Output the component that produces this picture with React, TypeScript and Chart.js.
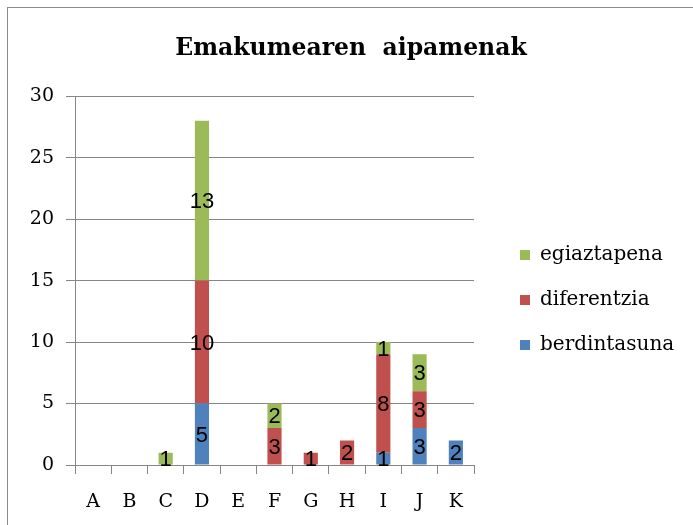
import React, { useEffect, useRef } from "react";
import { Chart, registerables } from "chart.js";

Chart.register(...registerables);

const categories = ["A", "B", "C", "D", "E", "F", "G", "H", "I", "J", "K"];
const berdintasuna = [0, 0, 0, 5, 0, 0, 0, 0, 1, 3, 2];
const diferentzia = [0, 0, 0, 10, 0, 3, 1, 2, 8, 3, 0];
const egiaztapena = [0, 0, 1, 13, 0, 2, 0, 0, 1, 3, 0];
const yTicks = [0, 5, 10, 15, 20, 25, 30];

const CANVAS_W = 686;
const CANVAS_H = 518;
const PLOT_RIGHT = 466;
const LEGEND_LEFT = 487;
const LEGEND_TOP = 90;
const LEGEND_BOTTOM = 494;

const segmentLabels = {
  id: "segmentLabels",
  afterDatasetsDraw(chart: any) {
    const ctx = chart.ctx;
    ctx.save();
    ctx.font = "22px 'Liberation Sans', Arial, sans-serif";
    ctx.fillStyle = "#000";
    ctx.textAlign = "center";
    ctx.textBaseline = "middle";
    chart.data.datasets.forEach((ds: any, di: number) => {
      const meta = chart.getDatasetMeta(di);
      meta.data.forEach((el: any, i: number) => {
        const v = ds.data[i];
        if (!v) return;
        const props = el.getProps(["x", "y", "base"], true);
        ctx.fillText(String(v), props.x, (props.y + props.base) / 2 + 1.5);
      });
    });
    ctx.restore();
  },
};

const legendPlace = {
  id: "legendPlace",
  beforeLayout(chart: any) {
    const lg = chart.legend;
    if (lg && !lg.__patched) {
      const f = lg.fit;
      lg.fit = function () {
        f.call(this);
        this.width = CANVAS_W - PLOT_RIGHT;
      };
      lg.__patched = true;
    }
  },
  afterLayout(chart: any) {
    const lg = chart.legend;
    if (lg) {
      lg.left = LEGEND_LEFT;
      lg.right = CANVAS_W;
      lg.top = LEGEND_TOP;
      lg.bottom = LEGEND_BOTTOM;
      lg.height = LEGEND_BOTTOM - LEGEND_TOP;
    }
  },
};

export default function App() {
  const ref = useRef<HTMLCanvasElement | null>(null);

  useEffect(() => {
    document.body.style.overflow = "hidden";
    const gridColor = "#868686";
    const chart = new Chart(ref.current as HTMLCanvasElement, {
      type: "bar",
      data: {
        labels: categories,
        datasets: [
          { label: "berdintasuna", data: berdintasuna, backgroundColor: "#4F81BD" },
          { label: "diferentzia", data: diferentzia, backgroundColor: "#C0504D" },
          { label: "egiaztapena", data: egiaztapena, backgroundColor: "#9BBB59" },
        ],
      },
      plugins: [segmentLabels, legendPlace],
      options: {
        animation: false,
        responsive: false,
        maintainAspectRatio: false,
        devicePixelRatio: 1,
        layout: { padding: 0 },
        datasets: {
          bar: { categoryPercentage: 1, barPercentage: 0.39, borderWidth: 0 },
        },
        plugins: {
          title: {
            display: true,
            text: "Emakumearen  aipamenak",
            color: "#000",
            font: { family: "'DejaVu Serif', serif", size: 23.5, weight: "bold" },
            padding: { top: 27, bottom: 33 },
          },
          legend: {
            position: "right",
            reverse: true,
            labels: {
              boxWidth: 10,
              boxHeight: 10,
              padding: 25,
              color: "#000",
              font: { family: "'DejaVu Serif', serif", size: 20 },
            },
          },
          tooltip: { enabled: false },
        },
        scales: {
          x: {
            stacked: true,
            offset: true,
            grid: {
              display: true,
              drawOnChartArea: false,
              drawTicks: true,
              tickLength: 9,
              color: gridColor,
              offset: true,
            },
            border: { display: true, color: gridColor },
            ticks: {
              color: "#000",
              padding: 17,
              font: { family: "'DejaVu Serif', serif", size: 19 },
            },
            afterFit(scale: any) {
              scale.height = 61;
            },
          },
          y: {
            stacked: true,
            min: 0,
            max: 30,
            afterBuildTicks(scale: any) {
              scale.ticks = yTicks.map((v) => ({ value: v }));
            },
            grid: {
              color: gridColor,
              drawTicks: true,
              tickLength: 9,
            },
            border: { display: true, color: gridColor },
            ticks: {
              color: "#000",
              padding: 12,
              font: { family: "'DejaVu Serif', serif", size: 19 },
            },
            afterFit(scale: any) {
              scale.width = 67;
            },
          },
        },
      },
    } as any);
    return () => chart.destroy();
  }, []);

  return (
    <div
      style={{
        position: "absolute",
        left: 7,
        top: 7,
        width: 720,
        height: 560,
        borderLeft: "1px solid #8a8a8a",
        borderTop: "1px solid #8a8a8a",
        background: "#fff",
      }}
    >
      <canvas
        ref={ref}
        width={CANVAS_W}
        height={CANVAS_H}
        style={{ display: "block", width: CANVAS_W, height: CANVAS_H }}
      />
    </div>
  );
}
